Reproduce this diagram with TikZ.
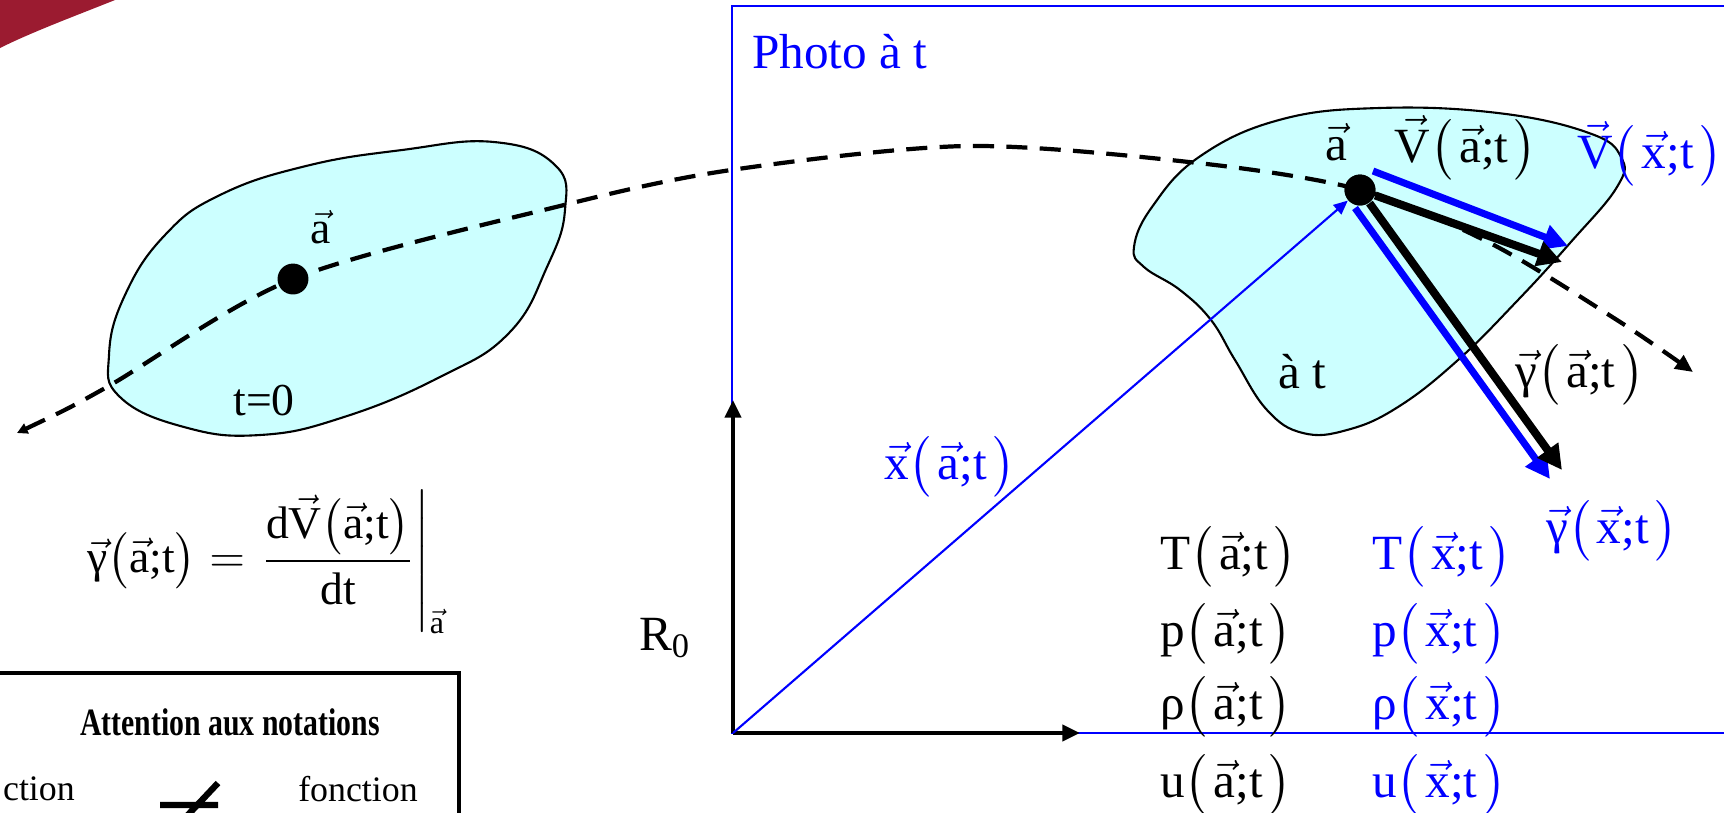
\documentclass[tikz,border=0pt]{standalone}
\usepackage{amsmath}
\usepackage{graphicx}
\usepackage{fontspec}
\setmainfont{Liberation Serif}
\usetikzlibrary{arrows.meta, positioning}
\definecolor{blobcyan}{RGB}{204,255,255}
\definecolor{cornerred}{RGB}{155,27,48}
\newcommand{\vecl}[1]{\ensuremath{\vec{\text{#1}}}}
\newcommand{\ArgA}{\ensuremath{\bigl(\mkern2mu\vecl{a}\text{;t}\mkern2mu\bigr)}}
\newcommand{\ArgX}{\ensuremath{\bigl(\mkern2mu\vecl{x}\text{;t}\mkern2mu\bigr)}}
\newcommand{\ArgAt}{\ensuremath{\bigl(\vecl{a}\text{;t}\bigr)}}
\begin{document}
\begin{tikzpicture}[x=0.1mm, y=-0.1mm, font=\fontsize{14}{16}\selectfont, inner sep=1pt, blob/.style={draw, line width=0.6pt, fill=blobcyan}, traj/.style={line width=1.2pt, dash pattern=on 6pt off 3.5pt, {Triangle[length=3pt,width=3pt]}-{Triangle[length=5pt,width=4.5pt]}}, pointdot/.style={circle, fill, inner sep=0pt, minimum size=8.8pt}, axis/.style={line width=1.4pt, -{Triangle[length=5pt,width=4.5pt]}}, vecblack/.style={line width=2.3pt, -{Triangle[length=7pt,width=7pt]}}, vecblue/.style={blue, line width=2pt, -{Triangle[length=7pt,width=7pt]}}, posvec/.style={blue, line width=0.6pt, -{Triangle[length=4pt,width=3.5pt]}}]

\clip (0,0) rectangle (1724,812);
\fill[cornerred] (0,0) -- (115,0) .. controls (75,16) and (32,32) .. (0,48) -- cycle;

\draw[blue, line width=0.6pt] (732,6) rectangle (1760,733);
\node[blue, anchor=west] (photo) at (748,52) {Photo à t};

\draw[blob] plot[smooth cycle, tension=0.75] coordinates {(494,142) (555,165) (565,210) (547,267) (509,333) (440,377) (344,417) (260,435) (184,427) (120,397) (109,355) (125,295) (165,235) (220,195) (306,166) (402,150)};
\draw[blob] plot[smooth cycle, tension=0.7] coordinates {(1379,108) (1279,120) (1199,157) (1152,207) (1134,247) (1144,267) (1180,290) (1211,320) (1235,360) (1267,410) (1303,433) (1347,430) (1398,407) (1458,360) (1518,300) (1570,243) (1617,187) (1621,157) (1589,133) (1498,113)};

\draw[traj] plot[smooth] coordinates {(17,433) (107,387) (293,279) (564,205) (731,170) (967,146) (1198,163) (1361,190) (1490,243) (1617,320) (1693,372)};

\node[pointdot] (dotA) at (293,279) {};
\node[font=\fontsize{13}{15}\selectfont] (aA) at (321,227) {\vecl{a}};
\node[font=\fontsize{13}{15}\selectfont] (t0) at (264,401) {t=0};

\node[anchor=west, inner sep=0pt] (gammadef) at (87,562) {\resizebox{35.8mm}{!}{$\displaystyle\vecl{γ}\ArgAt=\left.\frac{\text{d}\vecl{V}\ArgAt}{\text{dt}}\right|_{\vecl{a}}$}};

\coordinate (origin) at (733,733);
\coordinate (yaxis) at (733,400);
\coordinate (xaxis) at (1080,733);
\draw[axis] (origin) -- (yaxis);
\draw[axis] (origin) -- (xaxis);
\node (R0) at (665,638) {R\textsubscript{0}};

\coordinate (Vatip) at (1562,262);
\coordinate (Vxstart) at (1373,171);
\coordinate (Vxtip) at (1568,246);
\coordinate (gatip) at (1562,470);
\coordinate (gxstart) at (1355,208);
\coordinate (gxtip) at (1550,479);
\node[pointdot] (dotB) at (1360,190) {};
\draw[posvec] (origin) -- (dotB);
\draw[vecblue] (Vxstart) -- (Vxtip);
\draw[vecblue] (gxstart) -- (gxtip);
\draw[vecblack] (dotB) -- (Vatip);
\draw[vecblack] (dotB) -- (gatip);
\node[pointdot] at (dotB) {};

\node[blue] (xlab) at (950,467) {\vecl{x}\ArgA};
\node (aB) at (1336,142) {\vecl{a}};
\node (Va) at (1466,148) {\vecl{V}\ArgA};
\node[blue] (Vx) at (1650,154) {\vecl{V}\ArgX};
\node (ga) at (1580,375) {\vecl{γ}\ArgA};
\node[blue] (gx) at (1612,531) {\vecl{γ}\ArgX};
\node (atB) at (1302,372) {à t};

\node[anchor=west] (Ta) at (1156,557) {T\ArgA};
\node[anchor=west, blue] (Tx) at (1368,557) {T\ArgX};
\node[anchor=west] (pa) at (1156,634) {p\ArgA};
\node[anchor=west, blue] (px) at (1368,634) {p\ArgX};
\node[anchor=west] (rhoa) at (1156,707) {ρ\ArgA};
\node[anchor=west, blue] (rhox) at (1368,707) {ρ\ArgX};
\node[anchor=west] (ua) at (1156,785) {u\ArgA};
\node[anchor=west, blue] (ux) at (1368,785) {u\ArgX};

\draw[line width=1.2pt] (-10,673) rectangle (459,830);
\node (attn) at (230,722) {\scalebox{0.77}[1]{\bfseries\fontsize{11}{13}\selectfont Attention aux notations}};
\node[anchor=east, font=\fontsize{10.2}{12}\selectfont] (ction) at (79,789) {ction};
\node[font=\fontsize{10.2}{12}\selectfont] (fonc) at (358,789) {fonction};
\draw[line width=1.8pt] (160,805) -- (218,805) (160,823) -- (218,823) (185,818) -- (218,783);

\end{tikzpicture}
\end{document}
